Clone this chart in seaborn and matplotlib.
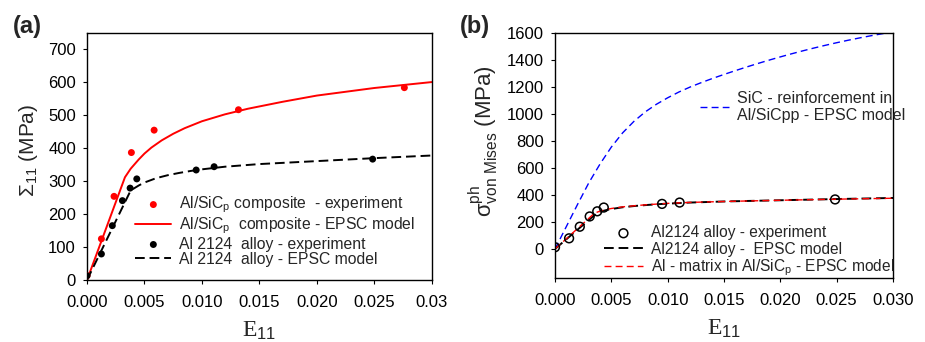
import matplotlib
matplotlib.use("Agg")
import matplotlib.pyplot as plt
import seaborn as sns

# Panel (a): macroscopic stress-strain curves
comp_exp_e = [0.0, 0.00125, 0.00235, 0.00386, 0.00584, 0.01318, 0.02762]
comp_exp_s = [13, 125, 254, 387, 455, 517, 584]
comp_mod_e = [0.0, 0.0033, 0.0038, 0.0045, 0.005, 0.0056, 0.0065, 0.0075, 0.0085,
              0.010, 0.012, 0.014, 0.017, 0.020, 0.025, 0.030]
comp_mod_s = [0, 312, 338, 366, 384, 402, 424, 444, 461,
              482, 503, 520, 541, 560, 583, 601]

alloy_exp_e = [0.0, 0.00125, 0.0022, 0.00308, 0.00375, 0.00433, 0.0095, 0.01106, 0.02486]
alloy_exp_s = [13, 79, 165, 241, 279, 307, 334, 344, 367]
alloy_mod_e = [0.0, 0.0038, 0.0045, 0.005, 0.006, 0.007, 0.008, 0.009, 0.010,
               0.012, 0.015, 0.020, 0.025, 0.030]
alloy_mod_s = [0, 272, 287, 296, 309, 318, 325, 331, 336,
               344, 352, 361, 370, 378]

# Panel (b): phase von Mises stresses
sic_e = [0.0, 0.001, 0.002, 0.003, 0.004, 0.005, 0.006, 0.007, 0.008, 0.009,
         0.010, 0.011, 0.012, 0.013, 0.014, 0.015, 0.016, 0.017, 0.018, 0.019,
         0.020, 0.021, 0.022, 0.023, 0.024, 0.025, 0.026, 0.027, 0.028, 0.029, 0.030]
sic_s = [0, 165, 330, 490, 630, 755, 860, 945, 1015, 1072,
         1120, 1163, 1200, 1233, 1264, 1293, 1321, 1348, 1374, 1399,
         1423, 1446, 1468, 1489, 1509, 1528, 1546, 1563, 1579, 1594, 1608]
matrix_e = [0.0, 0.0035, 0.004, 0.0045, 0.005, 0.006, 0.007, 0.008, 0.010,
            0.012, 0.015, 0.020, 0.025, 0.030]
matrix_s = [0, 265, 281, 292, 300, 312, 320, 327, 338,
            345, 352, 361, 369, 376]

sns.set_style("ticks")
plt.rcParams['font.family'] = ['Liberation Sans', 'DejaVu Sans']
plt.rcParams['mathtext.fontset'] = 'custom'
plt.rcParams['mathtext.rm'] = 'Liberation Sans'
plt.rcParams['mathtext.sf'] = 'Liberation Sans'
plt.rcParams['mathtext.it'] = 'Liberation Sans:italic'
plt.rcParams['mathtext.bf'] = 'Liberation Sans:bold'

fig = plt.figure(figsize=(9.25, 3.42), dpi=100)
ax1 = fig.add_axes([0.0941, 0.1813, 0.3726, 0.7222])
ax2 = fig.add_axes([0.600, 0.1871, 0.3654, 0.7164])

dash = (5, 2.5)

# (a)
sns.lineplot(x=comp_mod_e, y=comp_mod_s, ax=ax1, color='red', lw=1.4, sort=False,
             estimator=None, label='Al/SiC$_\\mathregular{p}$  composite - EPSC model')
sns.lineplot(x=alloy_mod_e, y=alloy_mod_s, ax=ax1, color='black', lw=1.4, sort=False,
             estimator=None, label='Al 2124  alloy - EPSC model')
ax1.lines[-1].set_dashes(dash)
sns.scatterplot(x=comp_exp_e, y=comp_exp_s, ax=ax1, color='red', s=25, edgecolor='none',
                label='Al/SiC$_\\mathregular{p}$ composite  - experiment', zorder=3)
sns.scatterplot(x=alloy_exp_e, y=alloy_exp_s, ax=ax1, color='black', s=25, edgecolor='none',
                label='Al 2124  alloy - experiment', zorder=3)

h, l = ax1.get_legend_handles_labels()
order = [2, 0, 3, 1]
ax1.legend([h[i] for i in order], [l[i] for i in order], loc='upper left',
           bbox_to_anchor=(0.14, 0.345), frameon=False, fontsize=11.3,
           handlelength=2.3, handletextpad=0.5, labelspacing=0.02,
           borderpad=0, borderaxespad=0)

ax1.set_xlim(0, 0.03)
ax1.set_ylim(0, 750)
ax1.set_xticks([0, 0.005, 0.01, 0.015, 0.02, 0.025, 0.03])
ax1.set_xticklabels(['0.000', '0.005', '0.010', '0.015', '0.020', '0.025', '0.03'])
ax1.set_yticks(range(0, 701, 100))
ax1.set_ylabel('Σ$_{11}$ (MPa)', fontsize=15, labelpad=6)
ax1.yaxis.label.set_y(0.525)
ax1.set_xlabel(r'E$_{\mathsf{11}}$', fontfamily='Liberation Serif', fontsize=17, labelpad=6)
ax1.text(-0.215, 1.025, '(a)', transform=ax1.transAxes, fontsize=17, fontweight='bold',
         ha='left', va='center')

# (b)
sns.lineplot(x=sic_e, y=sic_s, ax=ax2, color='blue', lw=1.0, sort=False,
             estimator=None, label='SiC - reinforcement in\nAl/SiCpp - EPSC model')
ax2.lines[-1].set_dashes((5, 3))
sns.lineplot(x=alloy_mod_e, y=alloy_mod_s, ax=ax2, color='black', lw=1.4, sort=False,
             estimator=None, label='Al2124 alloy -  EPSC model')
ax2.lines[-1].set_dashes(dash)
sns.lineplot(x=matrix_e, y=matrix_s, ax=ax2, color='red', lw=1.0, sort=False,
             estimator=None, label='Al - matrix in Al/SiC$_\\mathregular{p}$ - EPSC model')
ax2.lines[-1].set_dashes((5, 3))
sns.scatterplot(x=alloy_exp_e, y=alloy_exp_s, ax=ax2, s=40, facecolor='none',
                edgecolor='black', linewidth=1.1, label='Al2124 alloy - experiment', zorder=3)

h, l = ax2.get_legend_handles_labels()
leg_b = ax2.legend([h[3], h[1], h[2]], [l[3], l[1], l[2]], loc='upper left',
                   bbox_to_anchor=(0.145, 0.215), frameon=False, fontsize=11.2,
                   handlelength=2.5, handletextpad=0.5, labelspacing=0.08,
                   borderpad=0, borderaxespad=0)
ax2.add_artist(leg_b)
ax2.legend([h[0]], [l[0]], loc='upper left', bbox_to_anchor=(0.43, 0.765),
           frameon=False, fontsize=11.5, handlelength=1.8, handletextpad=0.5,
           borderpad=0, borderaxespad=0)

ax2.set_xlim(0, 0.03)
ax2.set_ylim(-215, 1600)
ax2.set_xticks([0, 0.005, 0.01, 0.015, 0.02, 0.025, 0.03])
ax2.set_xticklabels(['0.000', '0.005', '0.010', '0.015', '0.020', '0.025', '0.030'])
ax2.set_yticks(range(0, 1601, 200))
ax2.set_ylabel(r'$\mathrm{\sigma}^{\mathrm{ph}}_{\mathrm{von\ Mises}}$ (MPa)', fontsize=16, labelpad=4)
ax2.yaxis.label.set_y(0.56)
ax2.set_xlabel(r'E$_{\mathsf{11}}$', fontfamily='Liberation Serif', fontsize=17, labelpad=6)
ax2.text(-0.28, 1.025, '(b)', transform=ax2.transAxes, fontsize=17, fontweight='bold',
         ha='left', va='center')

for ax in (ax1, ax2):
    for sp in ax.spines.values():
        sp.set_visible(True)
        sp.set_linewidth(1.0)
        sp.set_color('black')
    ax.tick_params(axis='both', labelsize=12, length=3, width=0.8, direction='out',
                   colors='black')
    ax.tick_params(axis='x', pad=8)
    ax.tick_params(axis='y', pad=5)

fig.savefig('out.png', dpi=100)
